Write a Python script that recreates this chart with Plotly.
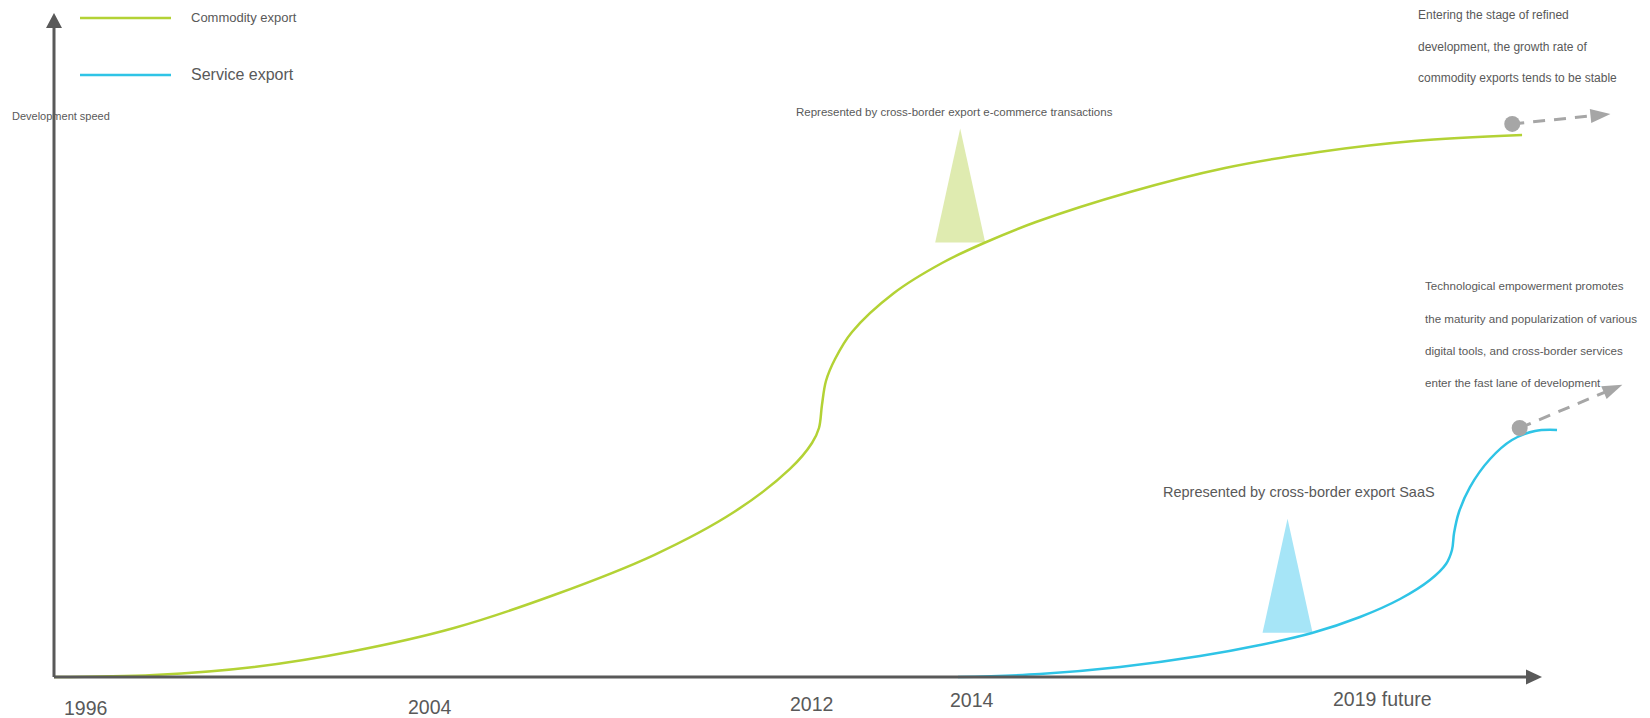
import numpy as np
import plotly.graph_objects as go

# ---------------------------------------------------------------------------
# Data
# ---------------------------------------------------------------------------
# Periods along the time axis (time axis runs 0-100 from origin to arrow tip)
periods = ["1996", "2004", "2012", "2014", "2019 future"]
period_pos = [2.1, 25.3, 50.9, 61.7, 89.3]

series_names = ["Commodity export", "Service export"]

# Commodity export: time position vs development speed (0-100)
commodity_t = [0, 6.72, 13.44, 20.16, 26.88, 33.60, 40.32, 45.70, 49.46,
               50.94, 51.41, 51.61, 51.88, 52.49, 53.63, 56.45, 59.68, 62.50,
               65.99, 72.31, 78.70, 85.01, 91.40, 98.66]
commodity_v = [0, 0.30, 1.51, 3.92, 7.38, 12.35, 18.37, 24.85, 31.33,
               35.24, 37.50, 40.96, 44.58, 47.89, 51.96, 57.83, 62.35, 65.36,
               68.52, 73.04, 76.66, 79.07, 80.72, 81.63]

# Service export: time position vs development speed (0-100)
service_t = [60.75, 66.26, 71.64, 77.02, 81.05, 84.54, 87.77, 90.46, 92.47,
             93.55, 93.95, 94.09, 94.42, 95.16, 96.51, 97.98, 99.53, 101.01]
service_v = [0, 0.45, 1.51, 3.16, 4.82, 6.63, 9.04, 11.75, 14.61,
             17.02, 19.13, 21.69, 24.85, 28.61, 32.83, 35.69, 37.05, 37.20]

# Callouts pointing at each curve
callout_text = ["Represented by cross-border export e-commerce transactions",
                "Represented by cross-border export SaaS"]
callout_pos = [60.9, 82.9]          # time position of each pointer
callout_label_pos = [(60.55, 85.1), (83.67, 27.9)]

# Outlook notes at the end of each curve
outlook_lines = [
    ["Entering the stage of refined",
     "development, the growth rate of",
     "commodity exports tends to be stable"],
    ["Technological empowerment promotes",
     "the maturity and popularization of various",
     "digital tools, and cross-border services",
     "enter the fast lane of development"],
]
outlook_from = [(98.0, 83.3), (98.5, 37.5)]
outlook_to = [(104.6, 84.8), (105.4, 44.0)]

# ---------------------------------------------------------------------------
# Layout geometry
# ---------------------------------------------------------------------------
W, H = 1650, 718
ORIGIN = (54, 677)      # pixel position of the axes' origin
PX_X = 14.88            # pixels per time unit
PX_Y = 6.64             # pixels per speed unit


def to_data(px, py):
    return (px - ORIGIN[0]) / PX_X, (ORIGIN[1] - py) / PX_Y


def to_px(x, y):
    return ORIGIN[0] + x * PX_X, ORIGIN[1] - y * PX_Y


def paper(px, py):
    return px / W, 1 - py / H


FONT = "Liberation Sans, Arial, sans-serif"
TEXT = "#595959"
AXIS = "#595959"
GREEN = "#b3d235"
CYAN = "#2fc4e6"
GREEN_LIGHT = "#dfebb0"
CYAN_LIGHT = "#a6e5f7"
GREY = "#a6a6a6"
colors = [GREEN, CYAN]
light_colors = [GREEN_LIGHT, CYAN_LIGHT]


def poly_path(points_px):
    pts = [to_data(px, py) for px, py in points_px]
    return "M" + " L".join(f"{x:.4f},{y:.4f}" for x, y in pts) + " Z"


def head_path(tip_px, tail_px, length, width):
    tx, ty = tip_px
    dx, dy = tx - tail_px[0], ty - tail_px[1]
    n = np.hypot(dx, dy)
    ux, uy = dx / n, dy / n
    bx, by = tx - ux * length, ty - uy * length
    nx, ny = -uy, ux
    return poly_path([(tx, ty),
                      (bx + nx * width / 2, by + ny * width / 2),
                      (bx - nx * width / 2, by - ny * width / 2)])


fig = go.Figure()
shapes = []
annotations = []

# ---- axes with arrow heads ----
x_tip = to_px(100, 0)
y_tip = to_px(0, 100)
o_px = to_px(0, 0)
shapes.append(dict(type="line", xref="x", yref="y", x0=0, y0=0,
                   x1=0, y1=100 - 8 / PX_Y, line=dict(color=AXIS, width=3)))
shapes.append(dict(type="line", xref="x", yref="y", x0=0, y0=0,
                   x1=100 - 8 / PX_X, y1=0, line=dict(color=AXIS, width=3)))
shapes.append(dict(type="path", xref="x", yref="y",
                   path=head_path(y_tip, o_px, 15, 16),
                   fillcolor=AXIS, line=dict(width=0)))
shapes.append(dict(type="path", xref="x", yref="y",
                   path=head_path(x_tip, o_px, 16, 15),
                   fillcolor=AXIS, line=dict(width=0)))

# ---- period labels below the time axis ----
label_drop_px = [31, 30, 27, 23, 22]
for lab, pos, drop in zip(periods, period_pos, label_drop_px):
    annotations.append(dict(x=pos, y=-drop / PX_Y, xref="x", yref="y",
                            text=lab, showarrow=False, xanchor="center",
                            yanchor="middle",
                            font=dict(family=FONT, size=19.5, color=TEXT)))

# ---- y axis title ----
ax, ay = paper(10, 116)
annotations.append(dict(x=ax, y=ay, xref="paper", yref="paper",
                        text="Development speed", showarrow=False,
                        xanchor="left", yanchor="middle",
                        font=dict(family=FONT, size=11, color=TEXT)))

# ---- legend ----
legend_y_px = [18, 75]
legend_font = [13, 16]
for name, col, ly, fs in zip(series_names, colors, legend_y_px, legend_font):
    x0, y0 = paper(80, ly)
    x1, _ = paper(171, ly)
    shapes.append(dict(type="line", xref="paper", yref="paper",
                       x0=x0, y0=y0, x1=x1, y1=y0,
                       line=dict(color=col, width=2.5)))
    tx, _ = paper(189, ly)
    annotations.append(dict(x=tx, y=y0, xref="paper", yref="paper",
                            text=name, showarrow=False, xanchor="left",
                            yanchor="middle",
                            font=dict(family=FONT, size=fs, color=TEXT)))

# ---- callout pointers (light triangles resting on the curves) ----
curves = [(commodity_t, commodity_v), (service_t, service_v)]
POINTER_W, POINTER_H = 50, 114
for (ct, cv), pos, fill in zip(curves, callout_pos, light_colors):
    cx, _ = to_px(pos, 0)
    right_t = pos + (POINTER_W / 2) / PX_X
    base_v = float(np.interp(right_t, ct, cv))
    _, base_py = to_px(pos, base_v)
    shapes.append(dict(type="path", xref="x", yref="y", layer="below",
                       path=poly_path([(cx, base_py - POINTER_H),
                                       (cx + POINTER_W / 2, base_py),
                                       (cx - POINTER_W / 2, base_py)]),
                       fillcolor=fill, line=dict(width=0)))

callout_font = [11.5, 14.5]
for txt, (lx, ly), fs in zip(callout_text, callout_label_pos, callout_font):
    annotations.append(dict(x=lx, y=ly, xref="x", yref="y", text=txt,
                            showarrow=False, xanchor="center",
                            yanchor="middle",
                            font=dict(family=FONT, size=fs, color=TEXT)))

# ---- curves ----
for (ct, cv), name, col in zip(curves, series_names, colors):
    fig.add_trace(go.Scatter(x=ct, y=cv, mode="lines", name=name,
                             line=dict(color=col, width=2.5,
                                       shape="spline", smoothing=1.0),
                             hoverinfo="skip", showlegend=False))

# ---- outlook: dot + dashed arrow + note ----
for (fx, fy), (tx, ty) in zip(outlook_from, outlook_to):
    tip_px = to_px(tx, ty)
    from_px = to_px(fx, fy)
    d = np.subtract(tip_px, from_px)
    d = d / np.hypot(*d)
    end_px = (tip_px[0] - d[0] * 14, tip_px[1] - d[1] * 14)
    ex, ey = to_data(*end_px)
    fig.add_trace(go.Scatter(x=[fx, ex], y=[fy, ey], mode="lines",
                             line=dict(color=GREY, width=3, dash="12px,9px"),
                             hoverinfo="skip", showlegend=False))
    shapes.append(dict(type="path", xref="x", yref="y",
                       path=head_path(tip_px, from_px, 20, 14),
                       fillcolor=GREY, line=dict(width=0)))
    fig.add_trace(go.Scatter(x=[fx], y=[fy], mode="markers",
                             marker=dict(color=GREY, size=16),
                             hoverinfo="skip", showlegend=False))

outlook_left_px = [1416, 1423]
outlook_line_px = [[15, 47, 78], [285, 318, 350, 382]]
outlook_font = [12, 11.6]
for lines, left, ys, fs in zip(outlook_lines, outlook_left_px,
                               outlook_line_px, outlook_font):
    for line, ly in zip(lines, ys):
        px_, py_ = paper(left, ly)
        annotations.append(dict(x=px_, y=py_, xref="paper", yref="paper",
                                text=line, showarrow=False, xanchor="left",
                                yanchor="middle",
                                font=dict(family=FONT, size=fs, color=TEXT)))

x_range = [to_data(0, 0)[0], to_data(W, 0)[0]]
y_range = [to_data(0, H)[1], to_data(0, 0)[1]]

fig.update_layout(
    width=W, height=H,
    margin=dict(l=0, r=0, t=0, b=0),
    paper_bgcolor="white", plot_bgcolor="white",
    xaxis=dict(range=x_range, visible=False, fixedrange=True),
    yaxis=dict(range=y_range, visible=False, fixedrange=True),
    shapes=shapes, annotations=annotations,
    showlegend=False,
)

fig.write_html("out.html")
